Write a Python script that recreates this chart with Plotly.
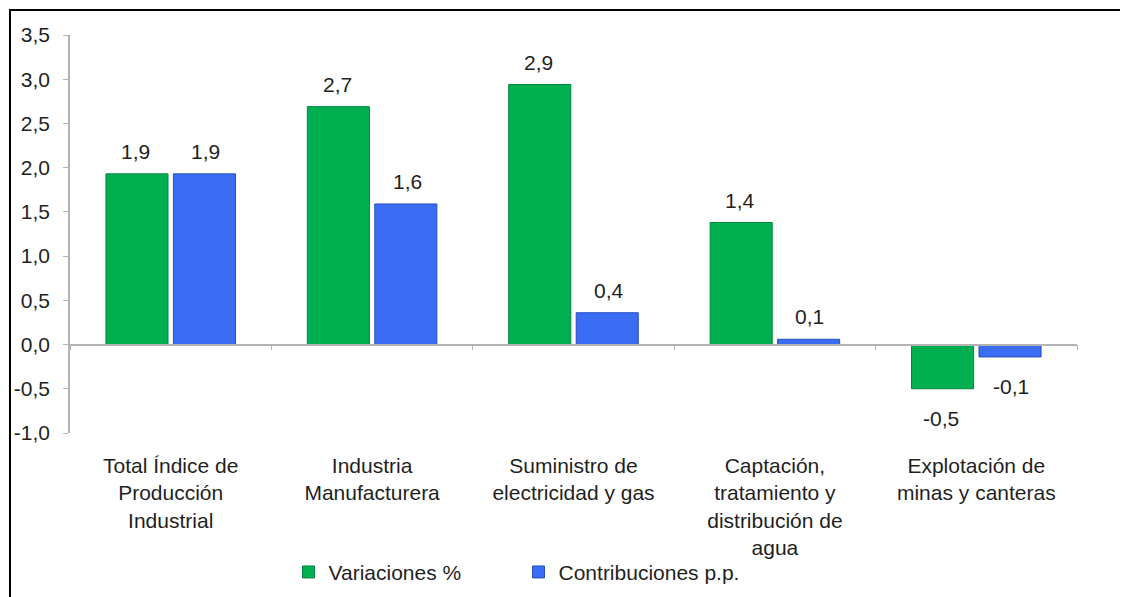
import plotly.graph_objects as go

categories = [
    "Total Índice de<br>Producción<br>Industrial",
    "Industria<br>Manufacturera",
    "Suministro de<br>electricidad y gas",
    "Captación,<br>tratamiento y<br>distribución de<br>agua",
    "Explotación de<br>minas y canteras",
]
variaciones = [1.93, 2.69, 2.94, 1.38, -0.50]
contribuciones = [1.93, 1.59, 0.36, 0.06, -0.14]
ytick_vals = [-1.0, -0.5, 0.0, 0.5, 1.0, 1.5, 2.0, 2.5, 3.0, 3.5]
ytick_text = [f"{v:.1f}".replace(".", ",") for v in ytick_vals]

FONT = "Liberation Sans, Arial, sans-serif"
TXT = "#1f1f1f"

fig = go.Figure()
fig.add_trace(go.Bar(
    x=categories, y=variaciones, name="Variaciones %",
    marker=dict(color="#00b050", line=dict(color="#00863c", width=1)),
))
fig.add_trace(go.Bar(
    x=categories, y=contribuciones, name="Contribuciones p.p.",
    marker=dict(color="#3a6cf4", line=dict(color="#2a4fc0", width=1)),
))
# invisible trace to carry the zero-line category axis
fig.add_trace(go.Scatter(x=categories, y=[None] * len(categories), xaxis="x2",
                         mode="markers", showlegend=False, hoverinfo="skip"))

# value labels
for i, series in enumerate([variaciones, contribuciones]):
    shift = -35 if i == 0 else 35
    for cat, v in zip(categories, series):
        fig.add_annotation(
            x=cat, y=v, xshift=shift,
            text=f"{v:.1f}".replace(".", ","),
            showarrow=False,
            yanchor="bottom" if v >= 0 else "top",
            yshift=9 if v >= 0 else -16,
            font=dict(family=FONT, size=21, color=TXT),
        )

ymin, ymax = -1.0, 3.5
zero_pos = (0 - ymin) / (ymax - ymin)

fig.update_layout(
    width=1120, height=589,
    paper_bgcolor="white", plot_bgcolor="white",
    margin=dict(l=62, r=51, t=27, b=164, autoexpand=False),
    barmode="group", bargap=0.33, bargroupgap=0.08,
    font=dict(family=FONT, size=21, color=TXT),
    showlegend=True,
    legend=dict(orientation="h", x=0.217, xanchor="left", y=-0.35, yanchor="middle",
                font=dict(size=21, color=TXT), itemwidth=30, traceorder="normal",
                entrywidth=185, entrywidthmode="pixels"),
    xaxis=dict(showline=False, showgrid=False, ticks="", tickfont=dict(size=21, color=TXT),
               ticklabelstandoff=18),
    xaxis2=dict(overlaying="x", matches="x", anchor="free", position=zero_pos,
                showline=True, linecolor="#b3b3b3", linewidth=1.5,
                ticks="outside", tickson="boundaries", ticklen=5, tickcolor="#b3b3b3",
                showticklabels=False, showgrid=False),
    yaxis=dict(range=[ymin, ymax], tickvals=ytick_vals, ticktext=ytick_text,
               showline=True, linecolor="#b3b3b3", linewidth=1.5,
               ticks="outside", ticklen=5, tickcolor="#b3b3b3", ticklabelstandoff=9,
               showgrid=False, zeroline=False, tickfont=dict(size=21, color=TXT)),
)

# outer frame (top and left edges visible in the source)
fig.add_shape(type="rect", xref="paper", yref="paper",
              x0=-0.0596, x1=1.3, y0=-0.6, y1=1.0628,
              line=dict(color="black", width=2), layer="above")

fig.write_html("out.html")
